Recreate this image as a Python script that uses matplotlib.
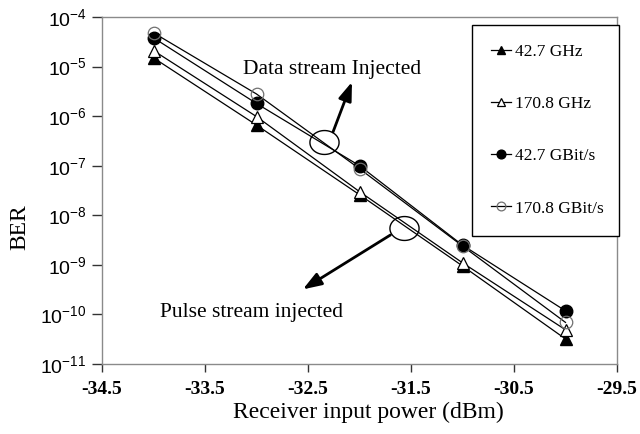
import numpy as np
import matplotlib
matplotlib.use("Agg")
import matplotlib.pyplot as plt
from matplotlib.path import Path

plt.rcParams["font.family"] = ["Liberation Serif", "DejaVu Serif"]
plt.rcParams["mathtext.fontset"] = "custom"
plt.rcParams["mathtext.rm"] = "Liberation Sans"
plt.rcParams["mathtext.it"] = "Liberation Sans:italic"

# receiver input power (dBm)
power = [-34, -33, -32, -31, -30]

# BER
ber_427ghz = [1.5e-5, 6.6e-7, 2.6e-8, 9.5e-10, 3.2e-11]
ber_1708ghz = [2.1e-5, 9.8e-7, 3.0e-8, 1.1e-9, 4.9e-11]
ber_427gbit = [3.8e-5, 1.8e-6, 1.0e-7, 2.5e-9, 1.18e-10]
ber_1708gbit = [4.8e-5, 2.8e-6, 8.7e-8, 2.4e-9, 6.9e-11]

labels = ["42.7 GHz", "170.8 GHz", "42.7 GBit/s", "170.8 GBit/s"]

x_ticks = [-34.5, -33.5, -32.5, -31.5, -30.5, -29.5]
y_exponents = [-11, -10, -9, -8, -7, -6, -5, -4]

# annotation anchors (power, BER)
data_ellipse = (-32.345, 3.0e-7)
data_arrow = ((-32.257, 4.8e-7), (-32.073, 4.9e-6))
data_text = (-32.27, 8.9e-6)
pulse_ellipse = (-31.57, 5.6e-9)
pulse_arrow = ((-31.70, 4.0e-9), (-32.55, 3.2e-10))
pulse_text = (-33.05, 1.1e-10)

fig = plt.figure(figsize=(6.4, 4.34), dpi=100)
fig.subplots_adjust(left=102/640, right=617/640, top=1-17/434, bottom=1-364/434)
ax = fig.add_subplot(111)

ms = 9
ax.plot(power, ber_427ghz, color="black", lw=0.9, marker="^", ms=ms,
        mfc="black", mec="black", label=labels[0], zorder=3)
ax.plot(power, ber_1708ghz, color="black", lw=0.9, marker="^", ms=ms,
        mfc="white", mec="black", mew=0.9, label=labels[1], zorder=3)
ax.plot(power, ber_427gbit, color="black", lw=0.9, marker="o", ms=ms,
        mfc="black", mec="black", label=labels[2], zorder=4)
ax.plot(power, ber_1708gbit, color="black", lw=0.9, marker="o", ms=ms,
        mfc="none", mec="#707070", mew=0.9, label=labels[3], zorder=4)

ax.set_yscale("log")
ax.set_xlim(-34.5, -29.5)
ax.set_ylim(1e-11, 1e-4)
ax.set_xticks(x_ticks)
ax.set_xticklabels([f"{v:.1f}" for v in x_ticks], fontsize=14, fontweight="bold")
ax.set_yticks([10.0**e for e in y_exponents])
ax.set_yticklabels([r"$\mathrm{10^{%d}}$" % e for e in y_exponents], fontsize=14)
ax.minorticks_off()
ax.tick_params(axis="y", direction="out", length=7, width=1, pad=4, color="#333333")
ax.tick_params(axis="x", direction="out", length=6, width=1, pad=6, color="#333333")
for s in ax.spines.values():
    s.set_color("#8a8a8a")
    s.set_linewidth(1)

ax.set_xlabel("Receiver input power (dBm)", fontsize=17)
ax.set_ylabel("BER", fontsize=17)
ax.xaxis.set_label_coords(0.518, -0.11)
ax.yaxis.set_label_coords(-0.14, 0.395)

# ellipse markers around the line bundles
t = np.linspace(0, 2 * np.pi, 60)
ell = Path(np.column_stack([np.cos(t), 0.82 * np.sin(t)]))
for cx, cy in [data_ellipse, pulse_ellipse]:
    ax.plot([cx], [cy], marker=ell, ms=21, mfc="none", mec="black", mew=1.0, zorder=5)

for (start, end) in [data_arrow, pulse_arrow]:
    ax.annotate("", xy=end, xytext=start,
                arrowprops=dict(arrowstyle="-|>,head_length=0.7,head_width=0.25",
                                lw=2, color="black", mutation_scale=16,
                                shrinkA=0, shrinkB=0))

ax.text(*data_text, "Data stream Injected", fontsize=15.5, ha="center", va="center")
ax.text(*pulse_text, "Pulse stream injected", fontsize=15.5, ha="center", va="center")

# legend box: fixed width, left edge 472px, top 25px
fig.legend(loc="upper left", bbox_to_anchor=(472/640, 1-25/434, 147/640, 0.0),
           mode="expand", borderaxespad=0,
           fontsize=12.5, frameon=True, fancybox=False, edgecolor="black",
           framealpha=1, borderpad=1.1, labelspacing=2.07, handlelength=1.15,
           handletextpad=0.2, markerscale=0.7)
fig.legends[0].get_frame().set_linewidth(1)

fig.savefig("out.png", dpi=100)
